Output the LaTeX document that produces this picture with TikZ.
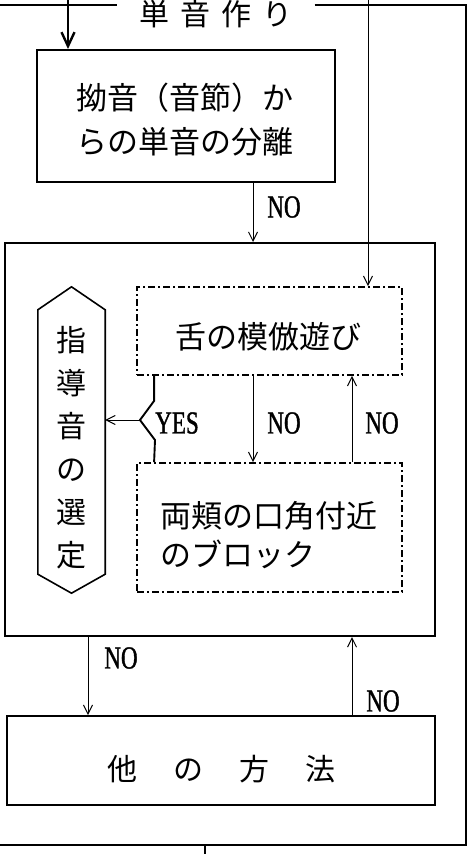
\documentclass[tikz,border=0pt]{standalone}
\usepackage{fontspec}
\setmainfont{Noto Sans CJK JP}
\newfontfamily\latinc[FakeStretch=0.72,FakeBold=1.2]{Liberation Serif}
\usetikzlibrary{arrows.meta,calc}
\begin{document}
\begin{tikzpicture}[x=1pt,y=-1pt,
  thickbox/.style={draw, line width=2pt, inner sep=0pt},
  ddbox/.style={draw, line width=1.8pt, dash pattern=on 7pt off 3pt on 2pt off 3pt, inner sep=0pt},
  conn/.style={line width=1pt, -{Straight Barb[length=9pt,width=9pt,line width=1pt]}},
  thickarr/.style={line width=2.4pt, -{Straight Barb[length=14pt,width=13pt,line width=2.4pt]}},
  lbl/.style={font=\latinc\fontsize{32}{32}\selectfont, inner sep=0pt},
  jp/.style={font=\fontsize{31}{44}\selectfont, inner sep=0pt, align=left},
  frame/.style={line width=1.3pt},
]
\useasboundingbox (0,0) rectangle (468,854);

% guides
\coordinate (gA) at (253,0);
\coordinate (gB) at (352,0);
\coordinate (gC) at (368,0);
\coordinate (gD) at (88,0);
\coordinate (gE) at (68,0);

% outer frame
\node[font=\fontsize{30}{30}\selectfont, inner xsep=22pt, inner ysep=0pt] (title) at (216,14) {単\hspace{11pt}音\hspace{11pt}作\hspace{11pt}り};
\coordinate (fl) at (0,5);
\coordinate (fr) at (466,5);
\coordinate (fbr) at (466,845);
\coordinate (fbl) at (0,845);
\coordinate (tk) at (205,845);
\coordinate (tk2) at (205,854);
\draw[frame] (fl) -- (fl -| title.west);
\draw[frame] (fr -| title.east) -- (fr) -- (fbr) -- (fbl);
\draw[frame] (tk) -- (tk2);

% boxes
\node[thickbox, minimum width=298pt, minimum height=132pt] (b1) at (186,116) {};
\node[jp] (t1) at (185,120) {拗音（音節）か\\らの単音の分離};

\node[thickbox, minimum width=430pt, minimum height=393pt] (big) at (220,439.5) {};

\node[ddbox, minimum width=265pt, minimum height=88pt] (tongue) at (269.5,331) {};
\node[jp] (t2) at (268,337) {舌の模倣遊び};

\node[ddbox, minimum width=265pt, minimum height=129pt] (cheek) at (269.5,527.5) {};
\node[jp, font=\fontsize{31}{39}\selectfont] (t3) at (269,535.5) {両頬の口角付近\\のブロック};

\node[minimum width=67pt, minimum height=306pt, inner sep=0pt] (hex) at (71.5,440) {};
\draw[line width=1.6pt] (hex.north) -- ($(hex.north west)+(0,23)$) -- ($(hex.south west)+(0,-19)$) -- (hex.south) -- ($(hex.south east)+(0,-19)$) -- ($(hex.north east)+(0,23)$) -- cycle;
\node[font=\fontsize{30}{43}\selectfont, inner sep=0pt, align=center] (t4) at (71.5,448) {指\\導\\音\\の\\選\\定};

\node[thickbox, minimum width=428pt, minimum height=89pt] (other) at (221,760.5) {};
\node[font=\fontsize{30}{30}\selectfont, inner sep=0pt] (t5) at (221,769) {他\hspace{36pt}の\hspace{36pt}方\hspace{36pt}法};

% connectors
\draw[thickarr] (gE) -- (gE |- b1.north);
\draw[conn] (gA |- b1.south) -- (gA |- big.north);
\draw[conn] (gC) -- (gC |- tongue.north);
\draw[conn] (gA |- tongue.south) -- (gA |- cheek.north);
\draw[conn] (gB |- cheek.north) -- (gB |- tongue.south);
\draw[conn] (gD |- big.south) -- (gD |- other.north);
\draw[conn] (gB |- other.north) -- (gB |- big.south);

% YES bracket
\coordinate (ys) at ($(tongue.south west)+(18,0)$);
\coordinate (ye) at ($(cheek.north west)+(18,0)$);
\coordinate (yp) at (140,420);
\coordinate (ym) at (155,440);
\draw[line width=1.9pt] (ys) -- ++(0,25) -- (yp) -- (ym) -- (ye);
\draw[conn] (yp) -- (yp -| hex.east);

% labels
\node[lbl] (n1) at (284,207) {NO};
\node[lbl] (yes) at (177,423) {YES};
\node[lbl] (n2) at (284,423) {NO};
\node[lbl] (n3) at (382,423) {NO};
\node[lbl] (n4) at (121,658) {NO};
\node[lbl] (n5) at (383,701) {NO};
\end{tikzpicture}
\end{document}
